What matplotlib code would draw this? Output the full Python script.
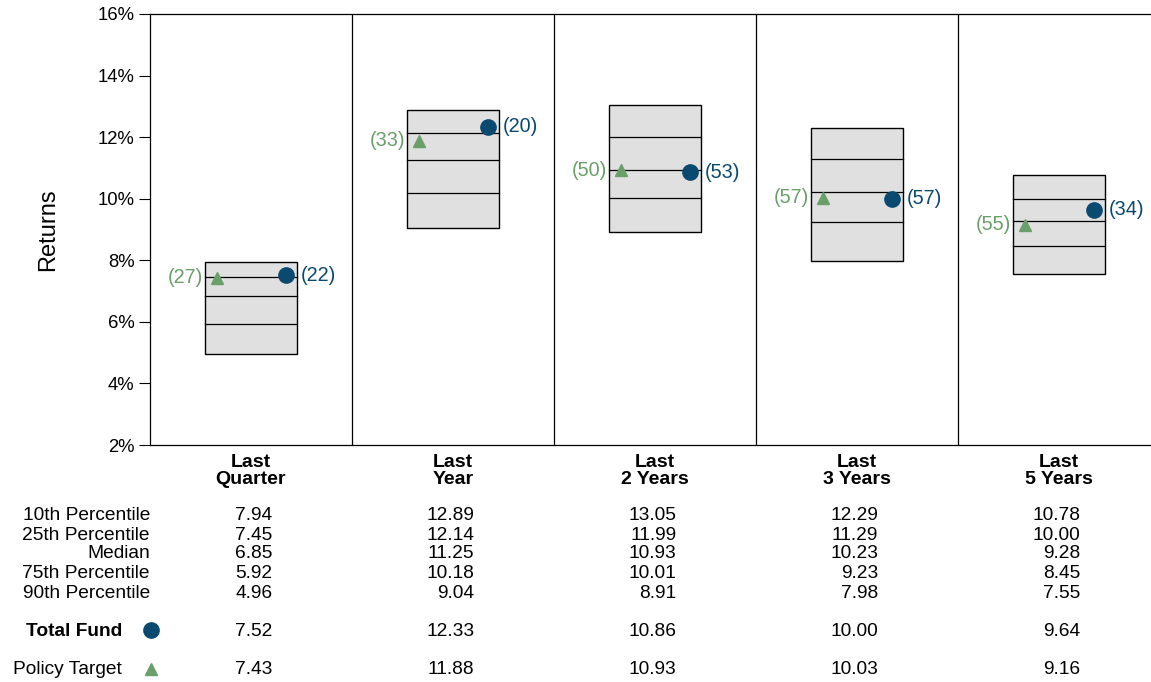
import matplotlib
matplotlib.use("Agg")
import matplotlib.pyplot as plt
from matplotlib.transforms import blended_transform_factory
from matplotlib.patches import Rectangle

plt.rcParams['font.family'] = ['Liberation Sans', 'DejaVu Sans']

categories = ["Last\nQuarter", "Last\nYear", "Last\n2 Years", "Last\n3 Years", "Last\n5 Years"]
p10 = [7.94, 12.89, 13.05, 12.29, 10.78]
p25 = [7.45, 12.14, 11.99, 11.29, 10.00]
median = [6.85, 11.25, 10.93, 10.23, 9.28]
p75 = [5.92, 10.18, 10.01, 9.23, 8.45]
p90 = [4.96, 9.04, 8.91, 7.98, 7.55]
total_fund = [7.52, 12.33, 10.86, 10.00, 9.64]
total_fund_rank = [22, 20, 53, 57, 34]
policy = [7.43, 11.88, 10.93, 10.03, 9.16]
policy_rank = [27, 33, 50, 57, 55]
yticks = [2, 4, 6, 8, 10, 12, 14, 16]

BLUE = "#0a4a70"
GREEN = "#6a9f6a"
FS = 13.8

W, H = 1151, 682
fig = plt.figure(figsize=(W/100, H/100), dpi=100)
ax = fig.add_axes([150/W, (H-445)/H, 1010/W, 431/H])
ax.set_xlim(0, 5)
ax.set_ylim(2, 16)
ax.set_yticks(yticks)
ax.set_yticklabels([f"{t}%" for t in yticks], fontsize=13.3)
ax.tick_params(axis='y', length=8, width=0.8, pad=3)
ax.set_xticks([])
ax.spines['right'].set_visible(False)
for s in ['left', 'top', 'bottom']:
    ax.spines[s].set_linewidth(0.9)
ax.set_ylabel("Returns", fontsize=17, labelpad=28)

for i in range(1, 5):
    ax.axvline(i, color='black', lw=0.9)

hw = 0.228
for i in range(5):
    c = i + 0.5
    ax.add_patch(Rectangle((c - hw, p90[i]), 2*hw, p10[i]-p90[i],
                           facecolor='#e0e0e0', edgecolor='black', lw=1.0, zorder=2))
    for v in (p25[i], median[i], p75[i]):
        ax.plot([c - hw, c + hw], [v, v], color='black', lw=0.9, zorder=3)
    tx = c - 0.168
    fx = c + 0.173
    ax.plot(tx, policy[i], marker='^', color=GREEN, ms=9, zorder=4, clip_on=False)
    ax.plot(fx, total_fund[i], marker='o', color=BLUE, ms=11, zorder=5, clip_on=False)
    ax.annotate(f"({policy_rank[i]})", (tx, policy[i]), xytext=(-10, 0),
                textcoords='offset points', ha='right', va='center', color=GREEN, fontsize=14.3)
    ax.annotate(f"({total_fund_rank[i]})", (fx, total_fund[i]), xytext=(11, 0),
                textcoords='offset points', ha='left', va='center', color=BLUE, fontsize=14.3)
    ax.text(c, -0.022, categories[i], transform=blended_transform_factory(ax.transData, ax.transAxes),
            ha='center', va='top', fontsize=14, fontweight='bold', linespacing=0.95)

tr = blended_transform_factory(ax.transData, fig.transFigure)
row_labels = ["10th Percentile", "25th Percentile", "Median", "75th Percentile", "90th Percentile"]
row_data = [p10, p25, median, p75, p90]
row_y = [516, 535, 554, 574, 593]
for lab, data, y in zip(row_labels, row_data, row_y):
    fy = (H - y) / H
    fig.text(150/W, fy, lab, ha='right', va='center', fontsize=FS)
    for i in range(5):
        fig.text(i + 0.5 + 0.105, fy, f"{data[i]:.2f}", transform=tr, ha='right', va='center', fontsize=FS)

fy = (H - 631) / H
fig.text(122/W, fy, "Total Fund", ha='right', va='center', fontsize=FS, fontweight='bold')
fig.lines.append(plt.Line2D([151/W], [(H - 630) / H], marker='o', color=BLUE, ms=11, transform=fig.transFigure))
for i in range(5):
    fig.text(i + 0.5 + 0.105, fy, f"{total_fund[i]:.2f}", transform=tr, ha='right', va='center', fontsize=FS)

fy = (H - 670) / H
fig.text(122/W, fy, "Policy Target", ha='right', va='center', fontsize=FS)
fig.lines.append(plt.Line2D([151/W], [(H - 669) / H], marker='^', color=GREEN, ms=9, transform=fig.transFigure))
for i in range(5):
    fig.text(i + 0.5 + 0.105, fy, f"{policy[i]:.2f}", transform=tr, ha='right', va='center', fontsize=FS)

fig.savefig("out.png", dpi=100)
